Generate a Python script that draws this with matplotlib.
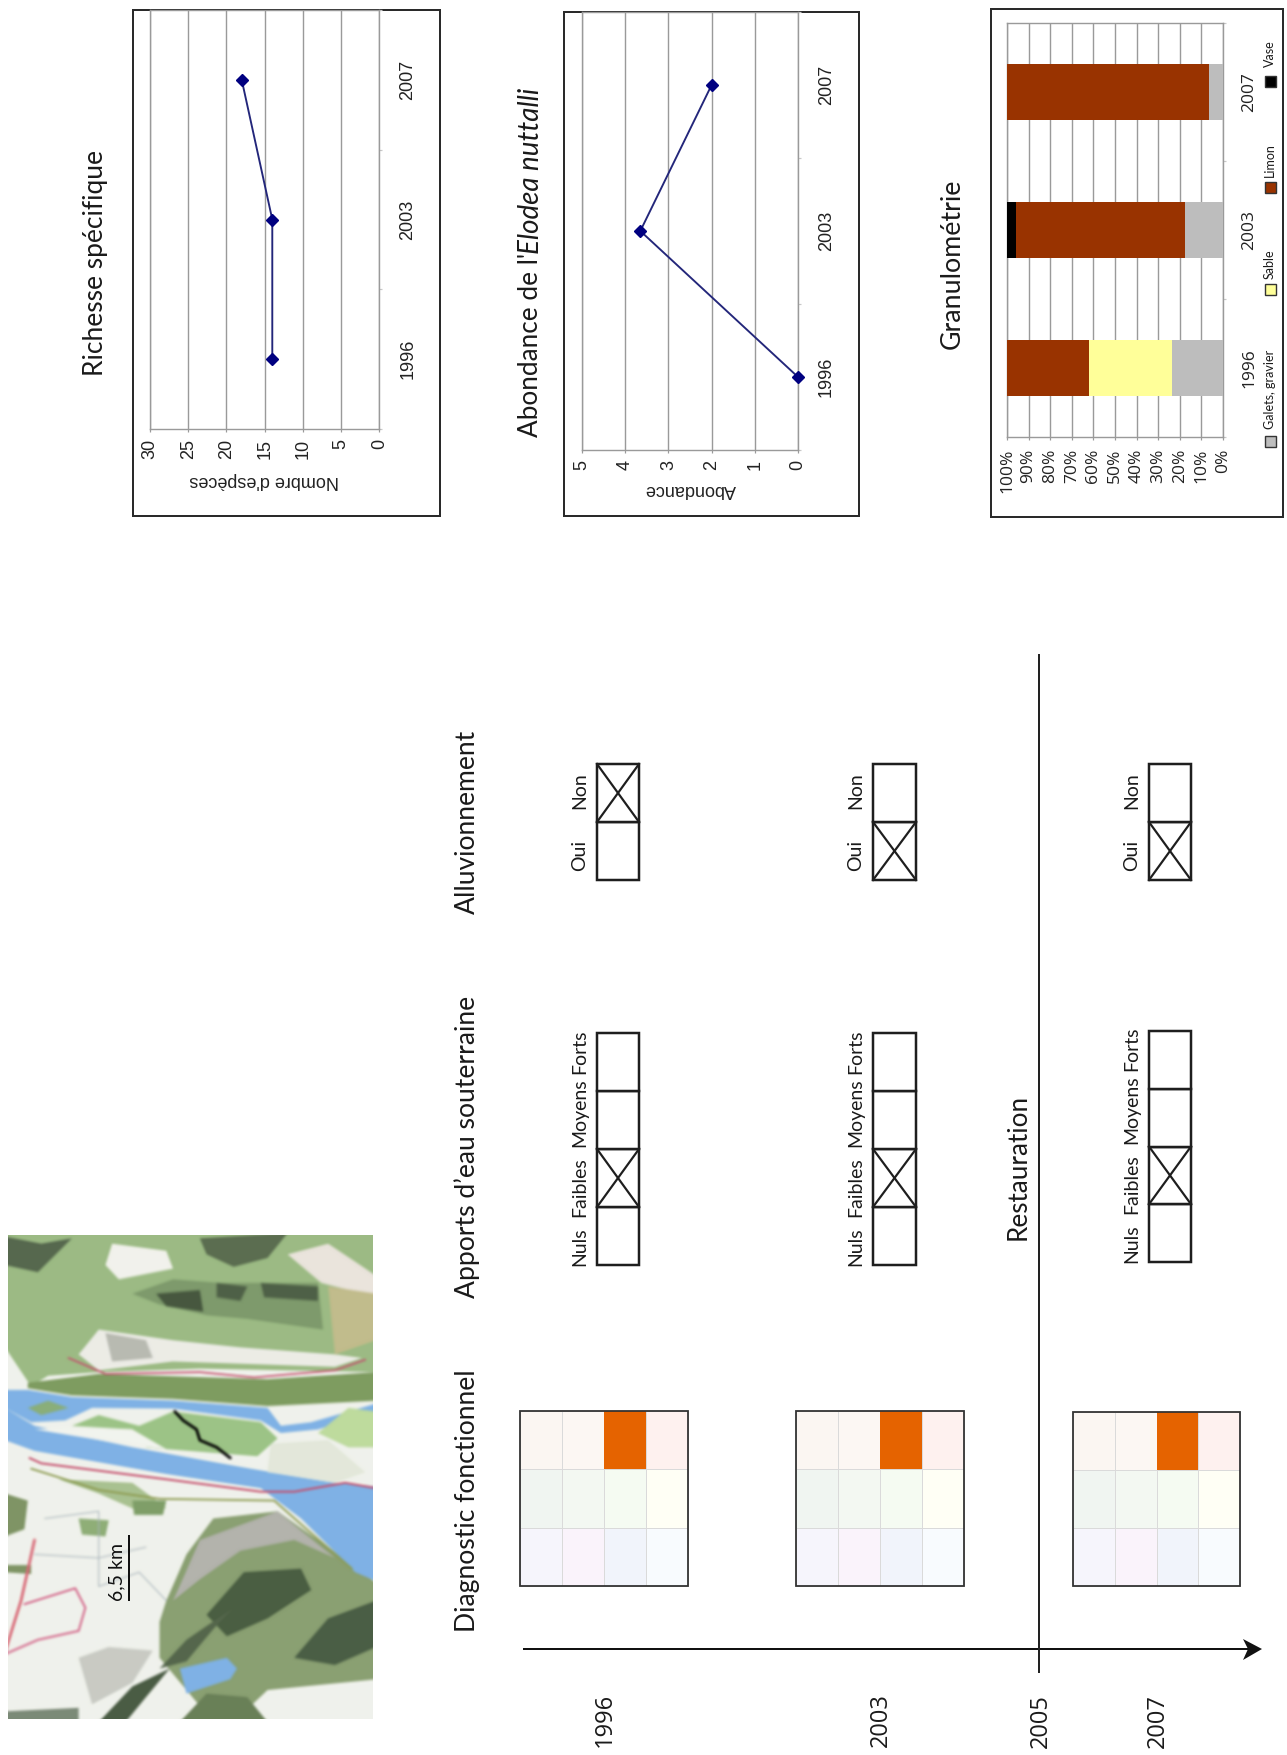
#!/usr/bin/env python3

import matplotlib
matplotlib.use('Agg')
import matplotlib.pyplot as plt
from matplotlib.backends.backend_agg import FigureCanvasAgg
from matplotlib.figure import Figure
from matplotlib.patches import Polygon, Rectangle
import numpy as np

W, H = 1287, 1755

YEARS = ['1996', '2003', '2007']
RICHNESS = [14, 14, 18]
ABUNDANCE = [0, 3.65, 2]
GRAVEL = [23.7, 17.5, 6.3]
SAND = [38.2, 0.3, 0]
SILT = [38.1, 78.2, 93.7]
MUD = [0, 4, 0]
GRAIN_NAMES = ['Galets, gravier', 'Sable', 'Limon', 'Vase']
GRAIN_COLORS = ['#BDBDBD', '#FFFF99', '#993300', '#000000']

ALLUV_OPTIONS = ['Oui', 'Non']
ALLUV_CHECKED = ['Non', 'Oui', 'Oui']
GROUND_OPTIONS = ['Nuls', 'Faibles', 'Moyens', 'Forts']
GROUND_CHECKED = ['Faibles', 'Faibles', 'Faibles']

# diagnostic matrix, one row per band from the top of the page
DIAG_TOP = ['#FBF6F2', '#FCF7F3', '#E56300', '#FEF1EF']
DIAG_MID = ['#F0F5F1', '#F3F8F2', '#F5FBF2', '#FFFFF5']
DIAG_LOW = ['#F6F5FC', '#FAF3FB', '#F1F4FB', '#F8FBFE']

SANS = 'Lato'
ARIAL = 'Liberation Sans'
TICKS = 'Open Sans'
DARK = '#2A2A2A'
px = 0.72

fig = plt.figure(figsize=(W / 100, H / 100), dpi=100, facecolor='white')
bg = fig.add_axes([0, 0, 1, 1])
bg.axis('off')


def axes_px(x0, y0, x1, y1):
  return fig.add_axes([x0 / W, 1 - y1 / H, (x1 - x0) / W, (y1 - y0) / H])


def rot_text(x, y, s, size, family=SANS, **kw):
  bg.text(x, y, s, rotation=90, ha='center', va='center', fontsize=size,
          family=family, color='#1A1A1A', **kw)


def frame(x0, y0, x1, y1):
  bg.add_patch(Rectangle((x0, y0), x1 - x0, y1 - y0, fill=False,
                         ec=DARK, lw=2 * px))


def setup_chart(ax, vmax, step, lab_pad, year_pad, family, size):
  ax.set_xlim(vmax, 0)
  ax.set_ylim(-0.5, 2.5)
  ax.set_xticks(range(0, vmax + 1, step))
  ax.set_yticks([0, 1, 2], YEARS)
  ax.set_yticks([-0.5, 0.5, 1.5, 2.5], minor=True)
  ax.yaxis.tick_right()
  ax.grid(axis='x', color='#9A9A9A', lw=1.4 * px)
  ax.set_axisbelow(True)
  ax.tick_params(axis='x', length=3 * px, width=1.2 * px, color='#9A9A9A',
                 pad=lab_pad * px, labelsize=size, labelcolor='#222222')
  ax.tick_params(axis='y', which='major', length=0, pad=year_pad * px,
                 labelsize=size, labelcolor='#222222')
  ax.tick_params(axis='y', which='minor', length=3 * px, width=1.2 * px,
                 color='#C8C8C8')
  for t in ax.get_xticklabels():
    t.set_rotation(90)
    t.set_family(family)
  for t in ax.get_yticklabels():
    t.set_rotation(90)
    t.set_va('center')
    t.set_family(family)
  for s in ax.spines.values():
    s.set_color('#9A9A9A')
    s.set_linewidth(1.4 * px)


def line_chart(rect, values, vmax, step, label, lab_pad, year_pad, xlabel_pad):
  ax = axes_px(*rect)
  setup_chart(ax, vmax, step, lab_pad, year_pad, ARIAL, 13)
  ax.plot(values, [0, 1, 2], color='#23267A', lw=1.9 * px, marker='D',
          ms=9 * px, mfc='#000080', mec='#000080', clip_on=False, zorder=5)
  ax.set_xlabel(label, rotation=180, family=ARIAL, fontsize=13,
                labelpad=xlabel_pad, color='#222222')
  return ax


def diag_box(x0, x1, y0, y1):
  cw = (x1 - x0) / 4
  rh = (y1 - y0) / 3
  for r, row in enumerate([DIAG_TOP, DIAG_MID, DIAG_LOW]):
    for c, col in enumerate(row):
      bg.add_patch(Rectangle((x0 + c * cw, y0 + r * rh), cw, rh, fc=col,
                             ec='#DADADA', lw=1.0 * px))
  # orange cell goes back on top of its neighbours' borders
  c = DIAG_TOP.index('#E56300')
  bg.add_patch(Rectangle((x0 + c * cw, y0), cw, rh, fc='#E56300', ec='none',
                         zorder=2))
  bg.add_patch(Rectangle((x0, y0), x1 - x0, y1 - y0, fill=False, ec='#333333',
                         lw=1.8 * px, zorder=3))


def check_boxes(x0, x1, y_top, y_bot, options, checked, lab_x, centers):
  n = len(options)
  ch = (y_bot - y_top) / n
  for i, name in enumerate(options):
    a = y_bot - (i + 1) * ch
    b = y_bot - i * ch
    bg.add_patch(Rectangle((x0, a), x1 - x0, ch, fc='white', ec='#1E1E1E',
                           lw=2.5 * px))
    if name == checked:
      bg.plot([x0, x1], [a, b], color='#1E1E1E', lw=2.2 * px)
      bg.plot([x0, x1], [b, a], color='#1E1E1E', lw=2.2 * px)
    rot_text(lab_x, centers[i], name, 14)


def map_image():
  # painted apart in the map crop's own units, then softened like the scan
  mfig = Figure(figsize=(3.67, 4.86), dpi=100)
  FigureCanvasAgg(mfig)
  m = mfig.add_axes([0, 0, 1, 1])
  m.set_xlim(22, 1122)
  m.set_ylim(1470, 97)
  m.axis('off')

  def poly(points, color):
    m.add_patch(Polygon(points, closed=True, fc=color, ec='none'))

  def line(points, color, lw):
    m.plot([a for a, b in points], [b for a, b in points], color=color, lw=lw,
           solid_capstyle='round')

  m.add_patch(Rectangle((22, 97), 1100, 1373, fc='#F0F2EC', ec='none'))
  # northern hills
  poly([(22, 97), (1122, 97), (1122, 490), (600, 480), (300, 490), (150, 500),
        (100, 530), (22, 420)], '#9CBB84')
  poly([(340, 130), (500, 150), (520, 200), (360, 230), (320, 190)], '#F2F2EC')
  poly([(22, 110), (130, 130), (220, 115), (120, 210), (22, 190)], '#56684E')
  poly([(600, 115), (860, 100), (800, 170), (700, 195), (620, 160)], '#5B6D50')
  poly([(400, 270), (520, 230), (660, 240), (950, 240), (965, 370), (740, 340),
        (620, 330), (480, 300)], '#7E9A6C')
  poly([(470, 270), (600, 260), (610, 320), (500, 305)], '#47583F')
  poly([(650, 240), (740, 250), (720, 290), (650, 280)], '#4F6147')
  poly([(780, 240), (950, 250), (950, 290), (790, 280)], '#4F6147')
  poly([(300, 370), (520, 400), (720, 420), (1000, 440), (1080, 450),
        (1000, 475), (520, 460), (300, 485), (240, 440)], '#ECECE6')
  poly([(320, 380), (440, 400), (460, 450), (340, 460)], '#B9BBB2')
  poly([(860, 160), (980, 130), (1122, 220), (1122, 280), (960, 240)], '#EAE4DC')
  poly([(980, 250), (1122, 270), (1122, 400), (1000, 440)], '#C2BC8C')
  # green strip along the right bank
  poly([(90, 520), (300, 495), (800, 510), (1122, 490), (1122, 570), (800, 585),
        (520, 565), (220, 555), (90, 535)], '#7E9C60')
  # farmland and mountains south of the river
  poly([(22, 830), (90, 850), (80, 930), (22, 950)], '#7F9565')
  poly([(22, 1030), (100, 1030), (100, 1055), (22, 1050)], '#7F9565')
  poly([(180, 790), (400, 800), (500, 870), (420, 880), (300, 830)], '#A9C190')
  poly([(400, 850), (500, 850), (490, 890), (405, 890)], '#7F9F68')
  poly([(240, 900), (330, 905), (320, 950), (250, 945)], '#8FAE78')
  line([(140, 900), (300, 880), (300, 1090), (420, 1050), (500, 1130)],
       '#A8B4BC', 0.7)
  line([(110, 1000), (300, 1010), (440, 980)], '#A8B4BC', 0.7)
  poly([(500, 1130), (560, 1000), (640, 900), (830, 880), (980, 980),
        (1122, 1080), (1122, 1350), (800, 1380), (700, 1470), (640, 1470),
        (480, 1290), (480, 1190)], '#8AA072')
  poly([(520, 1130), (600, 960), (830, 880), (1000, 1010), (880, 960),
        (720, 990), (600, 1070)], '#B3B3AC')
  poly([(620, 1170), (730, 1050), (900, 1040), (930, 1100), (800, 1180),
        (680, 1230)], '#4A5E42')
  poly([(880, 1290), (980, 1180), (1122, 1130), (1122, 1260), (1000, 1310)],
       '#4A5E45')
  poly([(480, 1320), (560, 1240), (700, 1150), (640, 1210), (560, 1300)],
       '#55674C')
  poly([(300, 1470), (400, 1370), (510, 1320), (440, 1400), (380, 1470)],
       '#4A5C44')
  poly([(540, 1470), (620, 1390), (740, 1400), (800, 1470)], '#6A8058')
  poly([(22, 1440), (240, 1430), (240, 1470), (22, 1470)], '#7C8A78')
  poly([(240, 1290), (330, 1260), (460, 1270), (400, 1360), (280, 1420)],
       '#C9CBC4')
  # water
  poly([(22, 590), (110, 640), (400, 700), (750, 760), (1000, 800), (1122, 810),
        (1122, 1075), (1060, 1050), (900, 900), (780, 815), (500, 775),
        (110, 710), (22, 680)], '#7FB2E5')
  poly([(22, 540), (90, 540), (220, 560), (520, 570), (800, 590), (840, 640),
        (930, 630), (1122, 578), (1122, 600), (950, 650), (840, 660),
        (780, 625), (520, 592), (280, 590), (200, 625), (100, 630), (22, 590)],
       '#7FB2E5')
  poly([(90, 590), (150, 570), (210, 590), (130, 610)], '#8AAE7A')
  poly([(220, 640), (300, 610), (420, 640), (520, 600), (780, 630), (830, 675),
        (770, 725), (500, 705), (440, 700), (400, 650)], '#9CC486')
  poly([(110, 650), (220, 645), (400, 650), (500, 705), (400, 695)], '#F2F4EE')
  poly([(810, 690), (980, 680), (1090, 770), (1000, 800), (800, 770)], '#E3E8DA')
  poly([(950, 660), (1040, 590), (1122, 600), (1122, 700), (1040, 700)],
       '#BEDB9E')
  poly([(540, 1320), (680, 1290), (710, 1320), (690, 1350), (560, 1390)],
       '#7FB2E5')
  # roads and the surveyed channel
  line([(95, 730), (130, 745), (500, 790), (780, 825), (880, 825), (1030, 800),
        (1122, 815)], '#C6506E', 1.4)
  line([(210, 450), (320, 495), (600, 490), (760, 505), (1000, 485), (1090, 455)],
       '#C6506E', 1.2)
  line([(22, 1275), (70, 1130), (110, 960)], '#D96A78', 2.0)
  line([(80, 1140), (230, 1095), (260, 1150), (240, 1215), (120, 1240),
        (22, 1280)], '#D4668A', 1.4)
  line([(100, 760), (300, 820), (480, 845), (820, 850), (1050, 1040)],
       '#8D9B50', 1.3)
  line([(525, 600), (550, 625), (590, 650), (600, 680), (650, 700), (690, 730)],
       '#000000', 2.0)

  mfig.canvas.draw()
  img = np.asarray(mfig.canvas.buffer_rgba())[:, :, :3].astype(float)
  kernel = np.array([1, 2, 3, 2, 1]) / 9.0
  for axis in (0, 1):
    img = np.apply_along_axis(np.convolve, axis, img, kernel, mode='same')
  return np.clip(img, 0, 255).astype(np.uint8)


# the blur darkens the outer rim, so it is cut off
bg.imshow(map_image()[3:-3, 3:-3], extent=(8, 373, 1719, 1235), aspect='auto')
bg.set_xlim(0, W)
bg.set_ylim(H, 0)

# scale bar
bg.plot([129, 129], [1536, 1600], color='#111111', lw=2 * px)
bg.text(117, 1572, '6,5 km', rotation=90, ha='center', va='center',
        fontsize=14, family=SANS, color='#111111')

# timeline and restoration mark
bg.plot([524, 1250], [1649, 1649], color='#111111', lw=2 * px)
bg.add_patch(Polygon([(1262, 1649), (1243, 1639), (1248, 1649), (1243, 1660)],
                     closed=True, fc='#111111', ec='none'))
bg.plot([1039, 1039], [655, 1672], color='#222222', lw=2 * px)
rot_text(1018, 1167, 'Restauration', 18.8)

rot_text(605, 1720, '1996', 17, family=TICKS)
rot_text(881, 1720, '2003', 17, family=TICKS)
rot_text(1041, 1721, '2005', 17, family=TICKS)
rot_text(1158, 1721, '2007', 17, family=TICKS)

rot_text(467, 1501, 'Diagnostic fonctionnel', 19.1)
rot_text(467, 1147, 'Apports d\u2019eau souterraine', 19.1)
rot_text(467, 822, 'Alluvionnement', 19.1)

# column blocks for each survey year
diag_box(520, 688, 1411, 1586)
diag_box(796, 964, 1411, 1586)
diag_box(1073, 1240, 1412, 1586)

alluv_centers = [855, 791]
ground_centers = [1247, 1187, 1113, 1052]
check_boxes(597, 639, 764, 880, ALLUV_OPTIONS, ALLUV_CHECKED[0], 580, alluv_centers)
check_boxes(873, 916, 764, 880, ALLUV_OPTIONS, ALLUV_CHECKED[1], 856, alluv_centers)
check_boxes(1149, 1191, 764, 880, ALLUV_OPTIONS, ALLUV_CHECKED[2], 1132, alluv_centers)
check_boxes(597, 639, 1033, 1265, GROUND_OPTIONS, GROUND_CHECKED[0], 580, ground_centers)
check_boxes(873, 916, 1033, 1265, GROUND_OPTIONS, GROUND_CHECKED[1], 856, ground_centers)
check_boxes(1149, 1191, 1031, 1262, GROUND_OPTIONS, GROUND_CHECKED[2], 1132,
            [c - 3 for c in ground_centers])

# richness
frame(133, 10, 440, 516)
line_chart((150, 10, 379.3, 429), RICHNESS, 30, 5, 'Nombre d\'esp\u00e8ces', 7, 20, 9)
rot_text(95, 263, 'Richesse sp\u00e9cifique', 19)

# elodea abundance
frame(564, 12, 859, 516)
line_chart((582, 12, 798, 450), ABUNDANCE, 5, 1, 'Abondance', 7, 20, 8)
bg.text(531, 437, 'Abondance de l\'', rotation=90, ha='center', va='bottom',
        fontsize=18.8, family=SANS, color='#1A1A1A')
bg.text(531, 254, 'Elodea nuttalli', rotation=90, ha='center', va='bottom',
        fontsize=20, family=SANS, style='italic', color='#1A1A1A')

# grain size
frame(991, 9, 1283, 517)
ax3 = axes_px(1007, 23, 1223, 437)
setup_chart(ax3, 100, 10, 9, 18, TICKS, 12.5)
ax3.set_xticklabels(['%d%%' % v for v in range(0, 101, 10)], rotation=90,
                    family=TICKS)
left = [0, 0, 0]
for vals, col in zip([GRAVEL, SAND, SILT, MUD], GRAIN_COLORS):
  ax3.barh([0, 1, 2], vals, height=0.4, left=left, color=col, zorder=3)
  left = [a + b for a, b in zip(left, vals)]
rot_text(952, 264, 'Granulom\u00e9trie', 19.3)

legend_y = [441, 289, 187, 81]
legend_text_y = [389, 264, 160, 54]
for y, ty, name, col in zip(legend_y, legend_text_y, GRAIN_NAMES, GRAIN_COLORS):
  bg.add_patch(Rectangle((1265, y - 5.5), 11, 11, fc=col, ec='#333333',
                         lw=1.4 * px))
  rot_text(1270, ty, name, 9)

fig.savefig('out.png', dpi=100)
